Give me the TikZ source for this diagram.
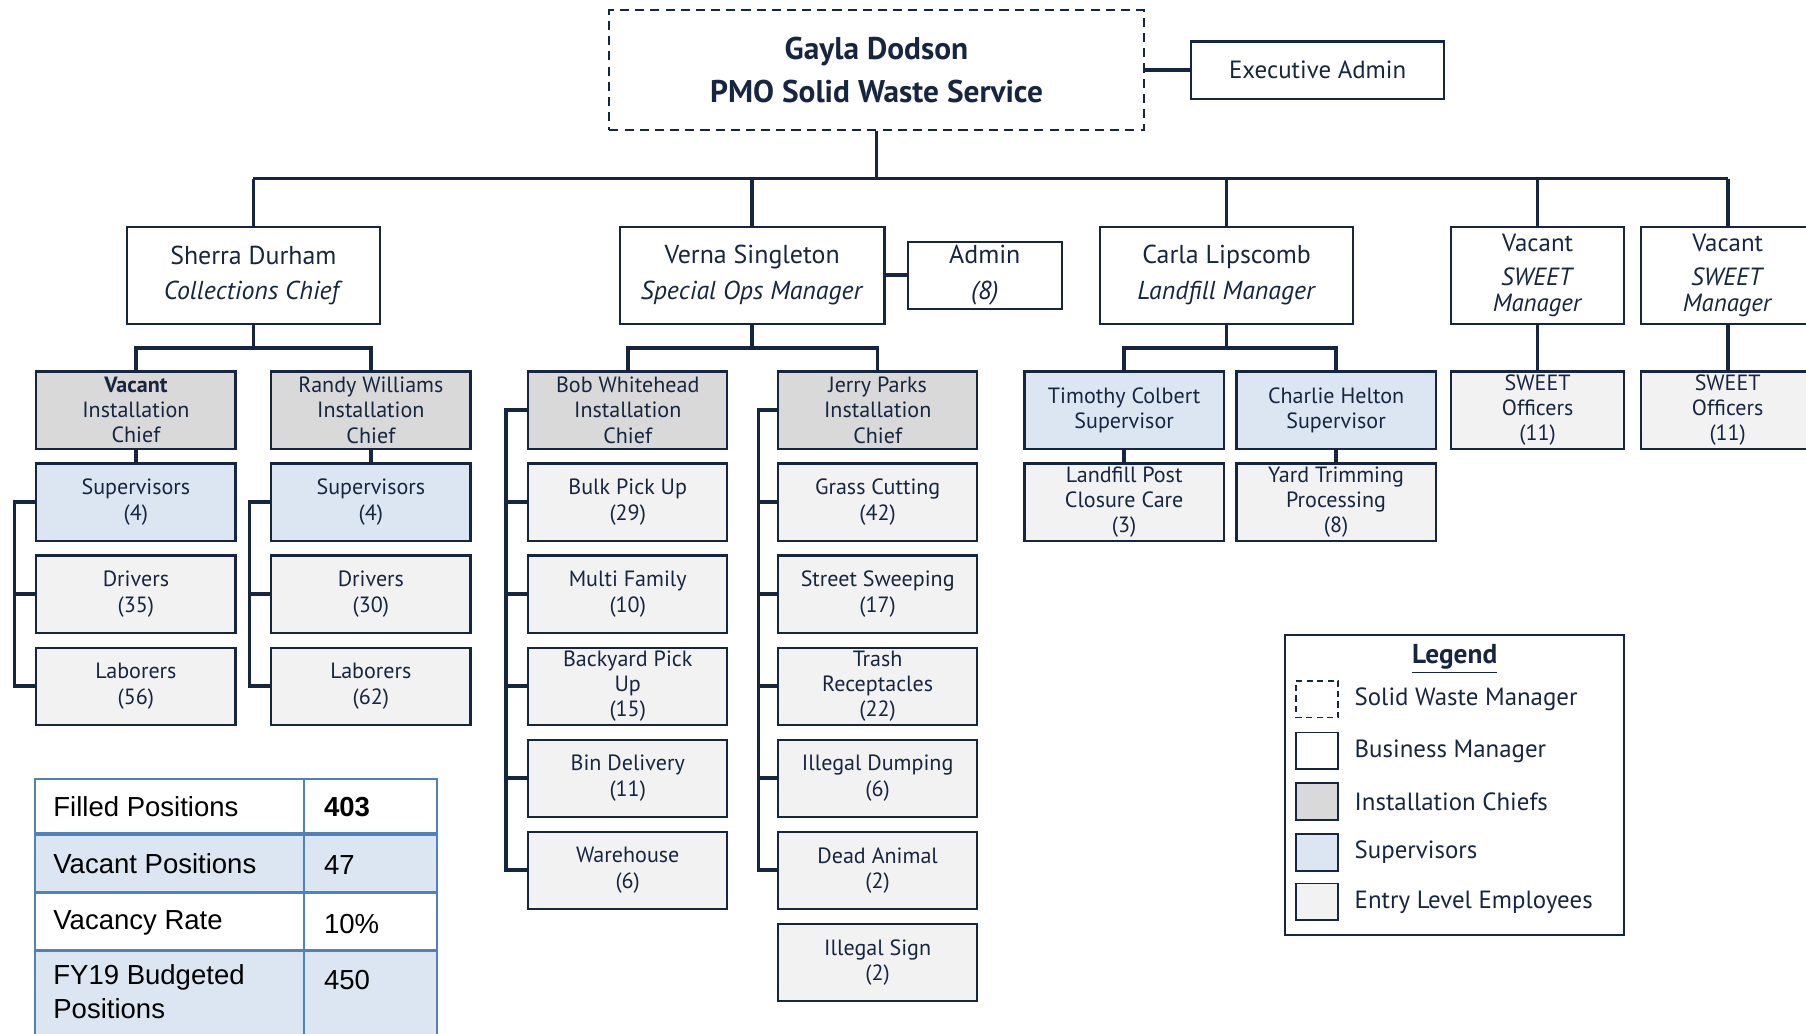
\documentclass[tikz,border=0pt]{standalone}
\usepackage{fontspec}
\setmainfont{PT Sans}
\newfontfamily\tablefont{Liberation Sans}
\usetikzlibrary{positioning}
\definecolor{ChartNavy}{RGB}{23,38,64}
\definecolor{ChiefGray}{RGB}{217,217,217}
\definecolor{SupBlue}{RGB}{220,230,242}
\definecolor{CrewGray}{RGB}{242,242,242}
\definecolor{TableBlue}{RGB}{79,129,189}
\tikzset{
  box/.style={draw=ChartNavy, line width=1.1pt, fill=white, text=ChartNavy, align=center, inner sep=1pt},
  mgr/.style={box, minimum width=4.4cm, minimum height=1.68cm, font=\fontsize{12.8}{17.6}\selectfont},
  unit/.style={box, minimum width=3.46cm, minimum height=1.34cm, font=\fontsize{10.9}{12.5}\selectfont},
  chief/.style={unit, fill=ChiefGray},
  sup/.style={unit, fill=SupBlue},
  crew/.style={unit, fill=CrewGray},
  conn/.style={draw=ChartNavy, line width=1.8pt},
  swatch/.style={draw=ChartNavy, line width=0.9pt, minimum width=0.74cm, minimum height=0.64cm, inner sep=0pt},
  legtext/.style={anchor=west, text=ChartNavy, font=\fontsize{12.3}{14}\selectfont, inner sep=0pt},
  tabcell/.style={anchor=west, align=left, font=\tablefont\fontsize{13.6}{17}\selectfont, inner sep=0pt},
}
\begin{document}
\begin{tikzpicture}[x=0.02cm, y=-0.02cm]
  \fill[white] (0,0) rectangle (1568,897);
  \useasboundingbox (0,0) rectangle (1568,897);

  % head of service
  \node[box, dash pattern=on 4.5pt off 3pt, minimum width=9.28cm, minimum height=2.08cm,
        font=\bfseries\fontsize{15.5}{21}\selectfont] (head) at (761,61) {Gayla Dodson\\PMO Solid Waste Service};
  \node[box, minimum width=4.4cm, minimum height=1cm, font=\fontsize{12.3}{14}\selectfont] (exec) at (1144,61) {Executive Admin};

  % managers
  \node[mgr] (sherra) at (220,239) {Sherra Durham\\\textit{Collections Chief}};
  \node[mgr, minimum width=4.6cm] (verna) at (653,239) {Verna Singleton\\\textit{Special Ops Manager}};
  \node[mgr, minimum width=2.68cm, minimum height=1.16cm] (admin) at (855,239) {Admin\\\textit{(8)}};
  \node[mgr] (carla) at (1065,239) {Carla Lipscomb\\\textit{Landfill Manager}};
  \node[mgr, minimum width=3cm, font=\fontsize{12.3}{13}\selectfont] (sweetA) at (1335,239) {Vacant\\[4pt]\textit{SWEET}\\\textit{Manager}};
  \node[mgr, minimum width=3cm, font=\fontsize{12.3}{13}\selectfont] (sweetB) at (1500,239) {Vacant\\[4pt]\textit{SWEET}\\\textit{Manager}};

  % collections
  \node[chief] (icA) at (118,356) {\textbf{Vacant}\\Installation\\Chief};
  \node[sup, below=0.22cm of icA] (supA) {Supervisors\\(4)};
  \node[crew, below=0.22cm of supA] (drvA) {Drivers\\(35)};
  \node[crew, below=0.22cm of drvA] (labA) {Laborers\\(56)};
  \node[chief] (icB) at (322,356) {Randy Williams\\Installation\\Chief};
  \node[sup, below=0.22cm of icB] (supB) {Supervisors\\(4)};
  \node[crew, below=0.22cm of supB] (drvB) {Drivers\\(30)};
  \node[crew, below=0.22cm of drvB] (labB) {Laborers\\(62)};

  % special ops
  \node[chief] (icC) at (545,356) {Bob Whitehead\\Installation\\Chief};
  \node[crew, below=0.22cm of icC] (bulk) {Bulk Pick Up\\(29)};
  \node[crew, below=0.22cm of bulk] (multi) {Multi Family\\(10)};
  \node[crew, below=0.22cm of multi] (backyard) {Backyard Pick\\Up\\(15)};
  \node[crew, below=0.22cm of backyard] (bin) {Bin Delivery\\(11)};
  \node[crew, below=0.22cm of bin] (warehouse) {Warehouse\\(6)};
  \node[chief] (icD) at (762,356) {Jerry Parks\\Installation\\Chief};
  \node[crew, below=0.22cm of icD] (grass) {Grass Cutting\\(42)};
  \node[crew, below=0.22cm of grass] (sweep) {Street Sweeping\\(17)};
  \node[crew, below=0.22cm of sweep] (trash) {Trash\\Receptacles\\(22)};
  \node[crew, below=0.22cm of trash] (dumping) {Illegal Dumping\\(6)};
  \node[crew, below=0.22cm of dumping] (animal) {Dead Animal\\(2)};
  \node[crew, below=0.22cm of animal] (sign) {Illegal Sign\\(2)};

  % landfill
  \node[sup] (timothy) at (976,356) {Timothy Colbert\\Supervisor};
  \node[crew, below=0.22cm of timothy] (landfill) {Landfill Post\\Closure Care\\(3)};
  \node[sup] (charlie) at (1160,356) {Charlie Helton\\Supervisor};
  \node[crew, below=0.22cm of charlie] (yard) {Yard Trimming\\Processing\\(8)};

  % sweet
  \node[crew, minimum width=3cm] (offA) at (1335,356) {SWEET\\Officers\\(11)};
  \node[crew, minimum width=3cm] (offB) at (1500,356) {SWEET\\Officers\\(11)};

  % connectors
  \coordinate (bus) at (0,155);
  \draw[conn] (head.east) -- (exec.west);
  \draw[conn] (head.south) -- (head.south |- bus);
  \draw[conn] (sherra.north |- bus) -- (sweetB.north |- bus);
  \draw[conn] (sherra.north) -- (sherra.north |- bus);
  \draw[conn] (verna.north) -- (verna.north |- bus);
  \draw[conn] (carla.north) -- (carla.north |- bus);
  \draw[conn] (sweetA.north) -- (sweetA.north |- bus);
  \draw[conn] (sweetB.north) -- (sweetB.north |- bus);
  \draw[conn] (verna.east) -- (admin.west);
  \draw[conn] (sherra.south) -- ++(0,20) -| (icA.north);
  \draw[conn] (sherra.south) -- ++(0,20) -| (icB.north);
  \draw[conn] (verna.south) -- ++(0,20) -| (icC.north);
  \draw[conn] (verna.south) -- ++(0,20) -| (icD.north);
  \draw[conn] (carla.south) -- ++(0,20) -| (timothy.north);
  \draw[conn] (carla.south) -- ++(0,20) -| (charlie.north);
  \draw[conn] (sweetA.south) -- (offA.north);
  \draw[conn] (sweetB.south) -- (offB.north);
  \draw[conn] (icA) -- (supA);
  \draw[conn] (icB) -- (supB);
  \draw[conn] (timothy) -- (landfill);
  \draw[conn] (charlie) -- (yard);
  \draw[conn] (supA.west) -- ++(-18,0) |- (labA.west);
  \draw[conn] (drvA.west) -- ++(-18,0);
  \draw[conn] (supB.west) -- ++(-18,0) |- (labB.west);
  \draw[conn] (drvB.west) -- ++(-18,0);
  \draw[conn] (icC.west) -- ++(-18,0) |- (warehouse.west);
  \draw[conn] (bulk.west) -- ++(-18,0);
  \draw[conn] (multi.west) -- ++(-18,0);
  \draw[conn] (backyard.west) -- ++(-18,0);
  \draw[conn] (bin.west) -- ++(-18,0);
  \draw[conn] (icD.west) -- ++(-16,0) |- (animal.west);
  \draw[conn] (grass.west) -- ++(-16,0);
  \draw[conn] (sweep.west) -- ++(-16,0);
  \draw[conn] (trash.west) -- ++(-16,0);
  \draw[conn] (dumping.west) -- ++(-16,0);

  % position table
  \fill[white] (30,676) rectangle (379,724);
  \fill[SupBlue] (30,724) rectangle (379,775);
  \fill[white] (30,775) rectangle (379,825);
  \fill[SupBlue] (30,825) rectangle (379,910);
  \draw[TableBlue, line width=1pt] (30,676) rectangle (379,910);
  \draw[TableBlue, line width=2.2pt] (30,724) -- (379,724);
  \draw[TableBlue, line width=1.3pt] (30,775) -- (379,775);
  \draw[TableBlue, line width=1.3pt] (30,825) -- (379,825);
  \draw[TableBlue, line width=1.3pt] (264,676) -- (264,910);
  \node[tabcell] (filledL) at (46,700) {Filled Positions};
  \node[tabcell] (filledV) at (281,701) {\textbf{403}};
  \node[tabcell] (vacantL) at (46,750) {Vacant Positions};
  \node[tabcell] (vacantV) at (281,751) {47};
  \node[tabcell] (rateL) at (46,801) {Vacancy Rate};
  \node[tabcell] (rateV) at (281,802) {10\%};
  \node[tabcell, anchor=north west] (budgetL) at (46,837) {FY19 Budgeted\\Positions};
  \node[tabcell] (budgetV) at (281,851) {450};

  % legend
  \node[draw=ChartNavy, line width=1pt, fill=white, minimum width=5.88cm, minimum height=5.22cm] (legend) at (1263,681.5) {};
  \node[text=ChartNavy, font=\bfseries\fontsize{13.5}{15}\selectfont] (legtitle) at (1263,572) {\underline{Legend}};
  \node[swatch, fill=white, dash pattern=on 3pt off 2.2pt] (swA) at (1143.5,607) {};
  \node[swatch, fill=white] (swB) at (1143.5,652) {};
  \node[swatch, fill=ChiefGray] (swC) at (1143.5,696) {};
  \node[swatch, fill=SupBlue] (swD) at (1143.5,740) {};
  \node[swatch, fill=CrewGray] (swE) at (1143.5,783) {};
  \node[legtext, right=0.26cm of swA] (lgA) {Solid Waste Manager};
  \node[legtext, right=0.26cm of swB] (lgB) {Business Manager};
  \node[legtext, right=0.26cm of swC] (lgC) {Installation Chiefs};
  \node[legtext, right=0.26cm of swD] (lgD) {Supervisors};
  \node[legtext, right=0.26cm of swE] (lgE) {Entry Level Employees};
\end{tikzpicture}
\end{document}
